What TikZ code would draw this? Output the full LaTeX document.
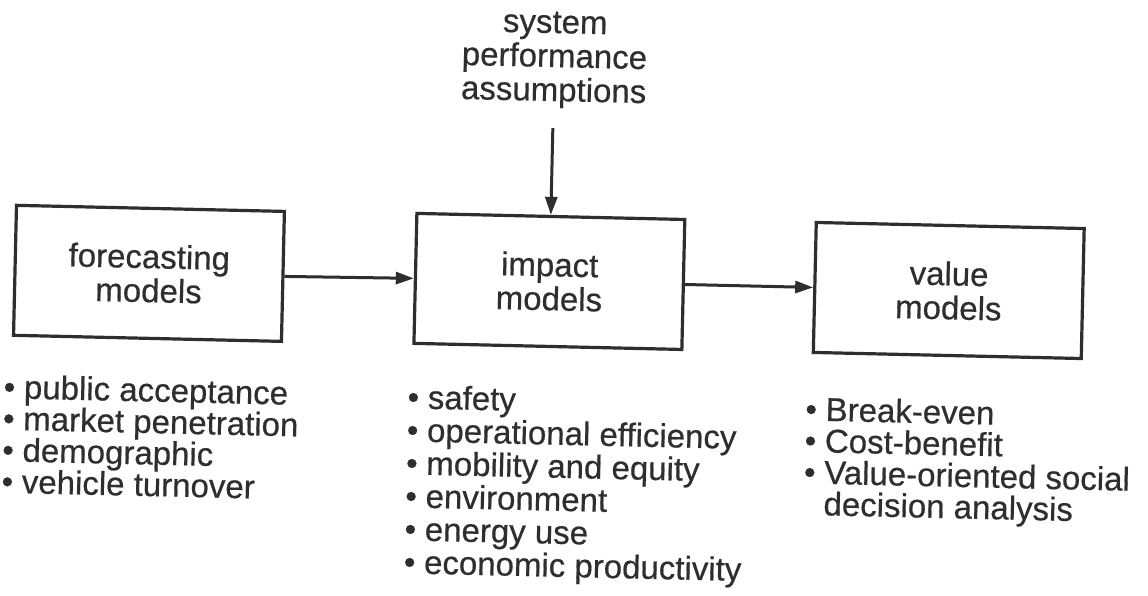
\documentclass[tikz,border=0pt]{standalone}
\usepackage{fontspec}
\setmainfont{Liberation Sans}[FakeBold=0.5]
\usetikzlibrary{arrows.meta}
\definecolor{ink}{HTML}{2E2E2E}
% keep the fixed leading of the lists even where lines come close
\AtBeginDocument{\lineskiplimit=-40pt \lineskip=0pt}
% one bulleted entry, and a continuation line aligned with the entry text
\newcommand{\itm}[1]{\makebox[11pt][c]{\textbullet}\hspace{9pt}#1}
\newcommand{\cont}[1]{\hspace{20pt}#1}
\begin{document}
\begin{tikzpicture}[x=1pt,y=-1pt,
  model/.style={draw=ink, line width=3.2pt, minimum width=268pt,
    minimum height=130pt, align=center, inner sep=0pt, text=ink,
    font=\fontsize{33}{34}\selectfont},
  flow/.style={draw=ink, line width=3pt,
    -{Triangle[length=18pt,width=12pt]}},
  itemlist/.style={text=ink, anchor=north west, inner sep=0pt, align=left},
  heading/.style={text=ink, align=center, inner sep=0pt,
    font=\fontsize{33}{34}\selectfont}]
\fill[white] (0,0) rectangle (1148,596);
\useasboundingbox (0,0) rectangle (1148,596);
\begin{scope}[rotate around={-1.3:(574,298)}, transform shape]
  % the three model stages
  \node[model] (fore) at (148.5,283) {forecasting\\models};
  \node[model] (impact) at (549,282) {impact\\models};
  \node[model] (value) at (948.5,282) {value\\models};
  % outside input to the impact stage
  \node[heading, anchor=north] (assume) at (549,12)
    {system\\performance\\assumptions};
  % connectors
  \draw[flow] (fore.east) -- (impact.west);
  \draw[flow] (impact.east) -- (value.west);
  \draw[flow, shorten <=20pt] (assume.south) -- (impact.north);
  % what each stage covers
  \node[itemlist, font=\fontsize{33}{31.5}\selectfont] (forelist) at (6,387) {%
    \itm{public acceptance}\\
    \itm{market penetration}\\
    \itm{demographic}\\
    \itm{vehicle turnover}};
  \node[itemlist, font=\fontsize{33}{33}\selectfont] (impactlist) at (410,388) {%
    \itm{safety}\\
    \itm{operational efficiency}\\
    \itm{mobility and equity}\\
    \itm{environment}\\
    \itm{energy use}\\
    \itm{economic productivity}};
  \node[itemlist, font=\fontsize{33}{31.5}\selectfont] (valuelist) at (808,391) {%
    \itm{Break-even}\\
    \itm{Cost-benefit}\\
    \itm{Value-oriented social}\\
    \cont{decision analysis}};
\end{scope}
\end{tikzpicture}
\end{document}
